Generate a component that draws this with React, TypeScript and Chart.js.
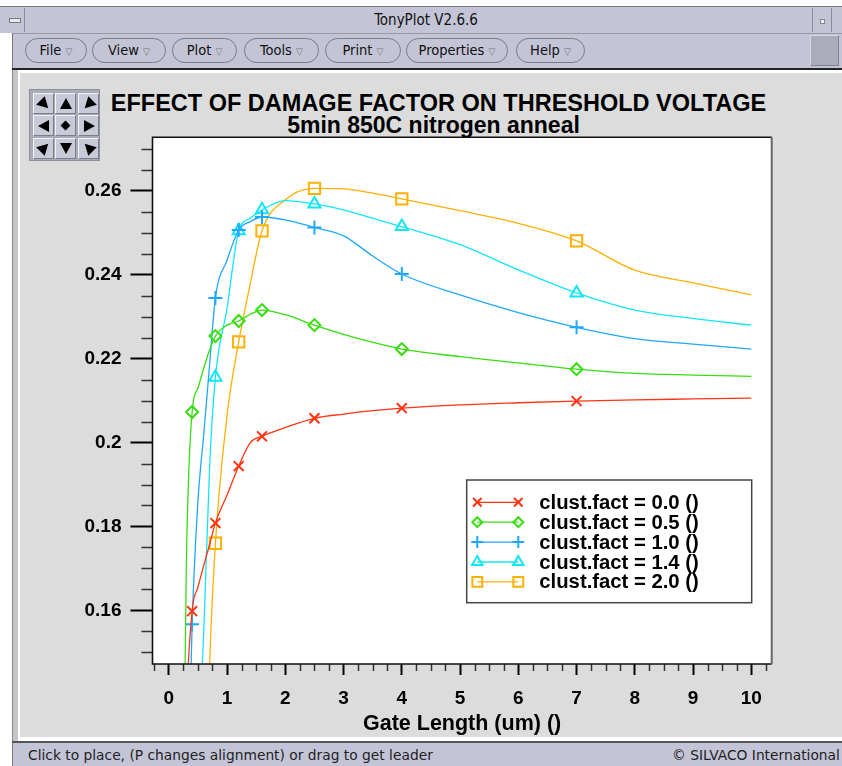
import React, { useEffect, useRef } from 'react';
import { Chart, registerables } from 'chart.js';
import { drawPoint } from 'chart.js/helpers';

Chart.register(...registerables);

// ---------------- data ----------------
const gateLength = [0.25, 0.3, 0.4, 0.5, 0.6, 0.7, 0.8, 1.0, 1.2, 1.4, 1.6, 2.0, 2.5, 3.0, 3.5, 4.0, 5.0, 6.0, 7.0, 8.0, 9.0, 10.0];
const markerAt = [0.4, 0.8, 1.2, 1.6, 2.5, 4.0, 7.0];

const vtClust00 = [0.100, 0.135, 0.1598, 0.1655, 0.1707, 0.1757, 0.1808, 0.1875, 0.1944, 0.2000, 0.2015, 0.2036, 0.2058, 0.2068, 0.2076, 0.2082, 0.2090, 0.2095, 0.2099, 0.2102, 0.2104, 0.2106];
const vtClust05 = [0.110, 0.170, 0.2073, 0.2130, 0.2178, 0.2221, 0.2254, 0.2280, 0.2290, 0.2306, 0.2316, 0.2305, 0.2280, 0.2258, 0.2239, 0.2223, 0.2205, 0.2190, 0.2175, 0.2165, 0.2161, 0.2158];
const vtClust10 = [0.050, 0.100, 0.1567, 0.1860, 0.2020, 0.2185, 0.2345, 0.2435, 0.2507, 0.2527, 0.2538, 0.2531, 0.2513, 0.2493, 0.2445, 0.2402, 0.2352, 0.2310, 0.2275, 0.2248, 0.2235, 0.2223];
const vtClust14 = [0.020, 0.040, 0.080, 0.125, 0.155, 0.194, 0.2156, 0.2320, 0.2505, 0.2535, 0.2555, 0.2577, 0.2569, 0.2555, 0.2535, 0.2515, 0.2472, 0.2412, 0.2357, 0.2316, 0.2296, 0.2280];
const vtClust20 = [0.010, 0.020, 0.040, 0.070, 0.100, 0.147, 0.176, 0.2065, 0.2240, 0.2380, 0.2505, 0.2579, 0.2606, 0.2605, 0.2595, 0.2581, 0.2553, 0.2523, 0.2481, 0.2411, 0.2381, 0.2352];

const seriesLabels = ['clust.fact = 0.0 ()', 'clust.fact = 0.5 ()', 'clust.fact = 1.0 ()', 'clust.fact = 1.4 ()', 'clust.fact = 2.0 ()'];
const seriesValues = [vtClust00, vtClust05, vtClust10, vtClust14, vtClust20];
const seriesColors = ['#ff3414', '#38de10', '#1ea8ff', '#12e6f6', '#ffb000'];
const seriesStyles = ['crossRot', 'rectRot', 'cross', 'triangle', 'rect'];
const seriesRadius = [7, 6, 7, 7, 8];

const xMajorTicks = [0, 1, 2, 3, 4, 5, 6, 7, 8, 9, 10];
const yMajorTicks = [0.16, 0.18, 0.2, 0.22, 0.24, 0.26];

const titleText = 'EFFECT OF DAMAGE FACTOR ON THRESHOLD VOLTAGE';
const subtitleText = '5min 850C nitrogen anneal';
const xAxisTitle = 'Gate Length (um) ()';

// ---------------- helpers ----------------
const near = (a: number, b: number) => Math.abs(a - b) < 1e-6;
const isXMajor = (v: number) => xMajorTicks.some((t) => near(t, v));
const isYMajor = (v: number) => yMajorTicks.some((t) => near(t, v));
const BOLD = '"Liberation Sans", Arial, Helvetica, sans-serif';

const framePlugin = {
  id: 'tonyFrame',
  beforeDraw(chart: any) {
    const { ctx, chartArea: a } = chart;
    ctx.save();
    ctx.fillStyle = '#ffffff';
    ctx.fillRect(a.left, a.top, a.right - a.left, a.bottom - a.top);
    ctx.restore();
  },
  afterDraw(chart: any) {
    const { ctx, chartArea: a, scales } = chart;
    const xs = scales.x;
    const ys = scales.y;
    ctx.save();
    // minor ticks
    ctx.strokeStyle = '#333';
    ctx.lineWidth = 1.5;
    ctx.beginPath();
    xs.ticks.forEach((t: any) => {
      if (isXMajor(t.value)) return;
      const px = Math.round(xs.getPixelForValue(t.value)) + 0.5;
      ctx.moveTo(px, a.bottom);
      ctx.lineTo(px, a.bottom + 7);
    });
    ys.ticks.forEach((t: any) => {
      if (isYMajor(t.value)) return;
      const py = Math.round(ys.getPixelForValue(t.value)) + 0.5;
      ctx.moveTo(a.left - 11, py);
      ctx.lineTo(a.left, py);
    });
    ctx.stroke();
    // frame
    ctx.lineWidth = 1.6;
    ctx.strokeStyle = '#111';
    ctx.beginPath();
    ctx.moveTo(a.right, a.top);
    ctx.lineTo(a.left, a.top);
    ctx.lineTo(a.left, a.bottom);
    ctx.lineTo(a.right, a.bottom);
    ctx.stroke();
    ctx.strokeStyle = '#666';
    ctx.lineWidth = 2;
    ctx.beginPath();
    ctx.moveTo(a.right, a.top);
    ctx.lineTo(a.right, a.bottom);
    ctx.stroke();

    // legend
    const bx = 448.7, by = 402, bw = 285, bh = 122.7;
    ctx.fillStyle = '#fff';
    ctx.fillRect(bx, by, bw, bh);
    ctx.strokeStyle = '#444';
    ctx.lineWidth = 1.5;
    ctx.strokeRect(bx, by, bw, bh);
    chart.data.datasets.forEach((ds: any, i: number) => {
      const ry = by + 22.3 + i * 19.9;
      const x1 = bx + 10.6, x2 = bx + 51.6;
      ctx.strokeStyle = ds.borderColor;
      ctx.lineWidth = 1.3;
      ctx.beginPath();
      ctx.moveTo(x1, ry);
      ctx.lineTo(x2, ry);
      ctx.stroke();
      ctx.fillStyle = 'rgba(0,0,0,0)';
      ctx.strokeStyle = ds.pointBorderColor;
      ctx.lineWidth = 2;
      const opts = { pointStyle: ds.pointStyle, radius: seriesRadius[i] - 1, borderWidth: 2, rotation: 0 };
      drawPoint(ctx, opts, x1, ry);
      drawPoint(ctx, opts, x2, ry);
      ctx.fillStyle = '#000';
      ctx.font = `bold 20.3px ${BOLD}`;
      ctx.textBaseline = 'middle';
      ctx.textAlign = 'left';
      ctx.fillText(ds.label, bx + 72.6, ry + 1);
    });
    ctx.restore();
  },
};

function buildConfig(): any {
  const datasets = seriesValues.map((vals, i) => ({
    label: seriesLabels[i],
    data: gateLength.map((x, k) => ({ x, y: vals[k] })),
    borderColor: seriesColors[i],
    borderWidth: 1.3,
    pointStyle: seriesStyles[i],
    pointBorderColor: seriesColors[i],
    pointBackgroundColor: 'rgba(0,0,0,0)',
    pointBorderWidth: 2,
    pointRadius: gateLength.map((x) => (markerAt.some((m) => near(m, x)) ? seriesRadius[i] : 0)),
    cubicInterpolationMode: 'monotone',
    fill: false,
  }));

  const tickFont = { family: BOLD, size: 19, weight: 'bold' };

  return {
    type: 'line',
    data: { datasets },
    plugins: [framePlugin],
    options: {
      responsive: false,
      animation: false,
      devicePixelRatio: 1,
      events: [],
      layout: { padding: { left: 0, top: 59.3, right: 70.3, bottom: 0 } },
      plugins: {
        legend: { display: false },
        tooltip: { enabled: false },
        title: { display: false },
      },
      scales: {
        x: {
          type: 'linear',
          min: -0.28,
          max: 10.35,
          afterFit: (s: any) => { s.height = 73; },
          border: { display: false },
          grid: {
            drawOnChartArea: false,
            drawTicks: true,
            tickLength: 11,
            tickWidth: 2,
            tickColor: (c: any) => (c.tick && isXMajor(c.tick.value) ? '#000' : 'rgba(0,0,0,0)'),
          },
          ticks: {
            stepSize: 0.25,
            includeBounds: false,
            autoSkip: false,
            maxRotation: 0,
            padding: 12,
            color: '#000',
            font: tickFont,
            callback: (v: number) => (isXMajor(v) ? String(Math.round(v)) : ''),
          },
          title: {
            display: true,
            text: xAxisTitle,
            color: '#000',
            font: { family: BOLD, size: 21.5, weight: 'bold' },
            padding: { top: 0, bottom: 0 },
          },
        },
        y: {
          type: 'linear',
          min: 0.1472,
          max: 0.2728,
          afterFit: (s: any) => { s.width = 134.5; },
          border: { display: false },
          grid: {
            drawOnChartArea: false,
            drawTicks: true,
            tickLength: 22,
            tickWidth: 2,
            tickColor: (c: any) => (c.tick && isYMajor(c.tick.value) ? '#000' : 'rgba(0,0,0,0)'),
          },
          ticks: {
            stepSize: 0.005,
            includeBounds: false,
            autoSkip: false,
            padding: 9,
            color: '#000',
            font: tickFont,
            callback: (v: number) => (isYMajor(v) ? String(Math.round(v * 100) / 100) : ''),
          },
        },
      },
    },
  };
}

// ---------------- chrome ----------------
const BAR = '#c3c5d6';
const PLOTBG = '#dcdcdc';
const CHROME_FONT = '"DejaVu Sans Condensed", "DejaVu Sans", sans-serif';

const menuItems: [string, number, number][] = [
  ['File', 25, 62], ['View', 92, 74], ['Plot', 172, 65], ['Tools', 244, 75],
  ['Print', 325, 76], ['Properties', 406, 102], ['Help', 516, 69],
];

const navAngles = [135, 0, 225, 270, -1, 90, 45, 180, 315];

function NavPad() {
  return (
    <div style={{ position: 'absolute', left: 29, top: 89, width: 71, height: 72, background: '#a9abb6', border: '1px solid #8d8f9a', boxSizing: 'border-box' }}>
      {navAngles.map((ang, i) => {
        const r = Math.floor(i / 3), c = i % 3;
        return (
          <div key={i} style={{
            position: 'absolute', left: 3 + c * 22.3, top: 3 + r * 22.3, width: 21, height: 21,
            background: '#c8cad8', borderTop: '1px solid #f2f2f8', borderLeft: '1px solid #f2f2f8',
            borderRight: '1px solid #7c7e8a', borderBottom: '1px solid #7c7e8a', boxSizing: 'border-box',
          }}>
            {ang < 0 ? (
              <div style={{ position: 'absolute', left: 6, top: 6, width: 7, height: 7, background: '#000', transform: 'rotate(45deg)' }} />
            ) : (
              <div style={{
                position: 'absolute', left: 4, top: 3.5, width: 0, height: 0,
                borderLeft: '6px solid transparent', borderRight: '6px solid transparent', borderBottom: '11px solid #000',
                transform: `rotate(${ang}deg)`, transformOrigin: '6px 6px',
              }} />
            )}
          </div>
        );
      })}
    </div>
  );
}

export default function App() {
  const ref = useRef<HTMLCanvasElement | null>(null);
  useEffect(() => {
    if (!ref.current) return;
    const chart = new Chart(ref.current, buildConfig());
    return () => chart.destroy();
  }, []);

  return (
    <div style={{ position: 'absolute', left: 0, top: 0, width: 842, height: 766, overflow: 'hidden', background: '#fff', fontFamily: CHROME_FONT }}>
      {/* title bar */}
      <div style={{ position: 'absolute', left: 0, top: 6, width: 842, height: 27, background: BAR, borderTop: '1px solid #777', boxSizing: 'border-box' }} />
      <div style={{ position: 'absolute', left: 3, top: 8, width: 22, height: 24, borderRight: '1px solid #8a8c99', boxSizing: 'border-box' }}>
        <div style={{ position: 'absolute', left: 6, top: 10, width: 10, height: 3, background: '#e8e8f0', border: '1px solid #777' }} />
      </div>
      <div style={{ position: 'absolute', left: 0, top: 11, width: 842, textAlign: 'center', fontSize: 15, color: '#111', paddingLeft: 10, boxSizing: 'border-box' }}>TonyPlot V2.6.6</div>
      <div style={{ position: 'absolute', left: 812, top: 8, width: 18, height: 24, borderLeft: '1px solid #8a8c99', borderRight: '1px solid #8a8c99' }}>
        <div style={{ position: 'absolute', left: 7, top: 11, width: 3, height: 3, border: '1px solid #888', background: '#eee' }} />
      </div>

      {/* menu bar */}
      <div style={{ position: 'absolute', left: 12, top: 33, width: 830, height: 36, background: BAR, borderLeft: '1px solid #777', borderTop: '1px solid #9698a6', boxSizing: 'border-box' }} />
      {menuItems.map(([name, x, w]) => (
        <div key={name} style={{
          position: 'absolute', left: x, top: 38, width: w, height: 25, borderRadius: 13,
          border: '1px solid #7a7c88', background: BAR, boxSizing: 'border-box',
          fontSize: 14.5, color: '#111', lineHeight: '23px', textAlign: 'center',
        }}>
          {name} <span style={{ color: '#777', fontSize: 10 }}>▽</span>
        </div>
      ))}
      <div style={{ position: 'absolute', left: 810, top: 35, width: 29, height: 31, background: '#aaacba', borderTop: '1px solid #d8d8e2', borderLeft: '1px solid #d8d8e2', borderRight: '1px solid #80828e', borderBottom: '1px solid #80828e', boxSizing: 'border-box' }} />
      <div style={{ position: 'absolute', left: 12, top: 68, width: 830, height: 2, background: '#222' }} />

      {/* plot window */}
      <div style={{ position: 'absolute', left: 12, top: 70, width: 830, height: 673, background: '#fff' }} />
      <div style={{ position: 'absolute', left: 12, top: 70, width: 6, height: 673, background: '#c6c6c6', borderLeft: '1px solid #8a8a8a', boxSizing: 'border-box' }} />
      <div style={{ position: 'absolute', left: 20, top: 73, width: 822, height: 664, background: PLOTBG }} />

      <NavPad />
      <div style={{ position: 'absolute', left: 0, top: 92, width: 877, textAlign: 'center', fontFamily: BOLD, fontWeight: 'bold', fontSize: 23.5, lineHeight: '23.5px', color: '#000', whiteSpace: 'nowrap' }}>{titleText}</div>
      <div style={{ position: 'absolute', left: 0, top: 114, width: 867, textAlign: 'center', fontFamily: BOLD, fontWeight: 'bold', fontSize: 23, lineHeight: '23px', color: '#000', whiteSpace: 'nowrap' }}>{subtitleText}</div>

      <canvas ref={ref} width={824} height={659} style={{ position: 'absolute', left: 18, top: 78, width: 824, height: 659 }} />

      {/* status bar */}
      <div style={{ position: 'absolute', left: 12, top: 741, width: 830, height: 2, background: '#555' }} />
      <div style={{ position: 'absolute', left: 12, top: 743, width: 830, height: 23, background: BAR, borderLeft: '1px solid #777', boxSizing: 'border-box' }} />
      <div style={{ position: 'absolute', left: 28, top: 747, fontSize: 13.8, color: '#222', fontFamily: '"DejaVu Sans", sans-serif', whiteSpace: 'nowrap' }}>Click to place, (P changes alignment) or drag to get leader</div>
      <div style={{ position: 'absolute', left: 672, top: 747, fontSize: 13.8, color: '#222', fontFamily: '"DejaVu Sans", sans-serif', whiteSpace: 'nowrap' }}>© SILVACO International</div>
    </div>
  );
}
